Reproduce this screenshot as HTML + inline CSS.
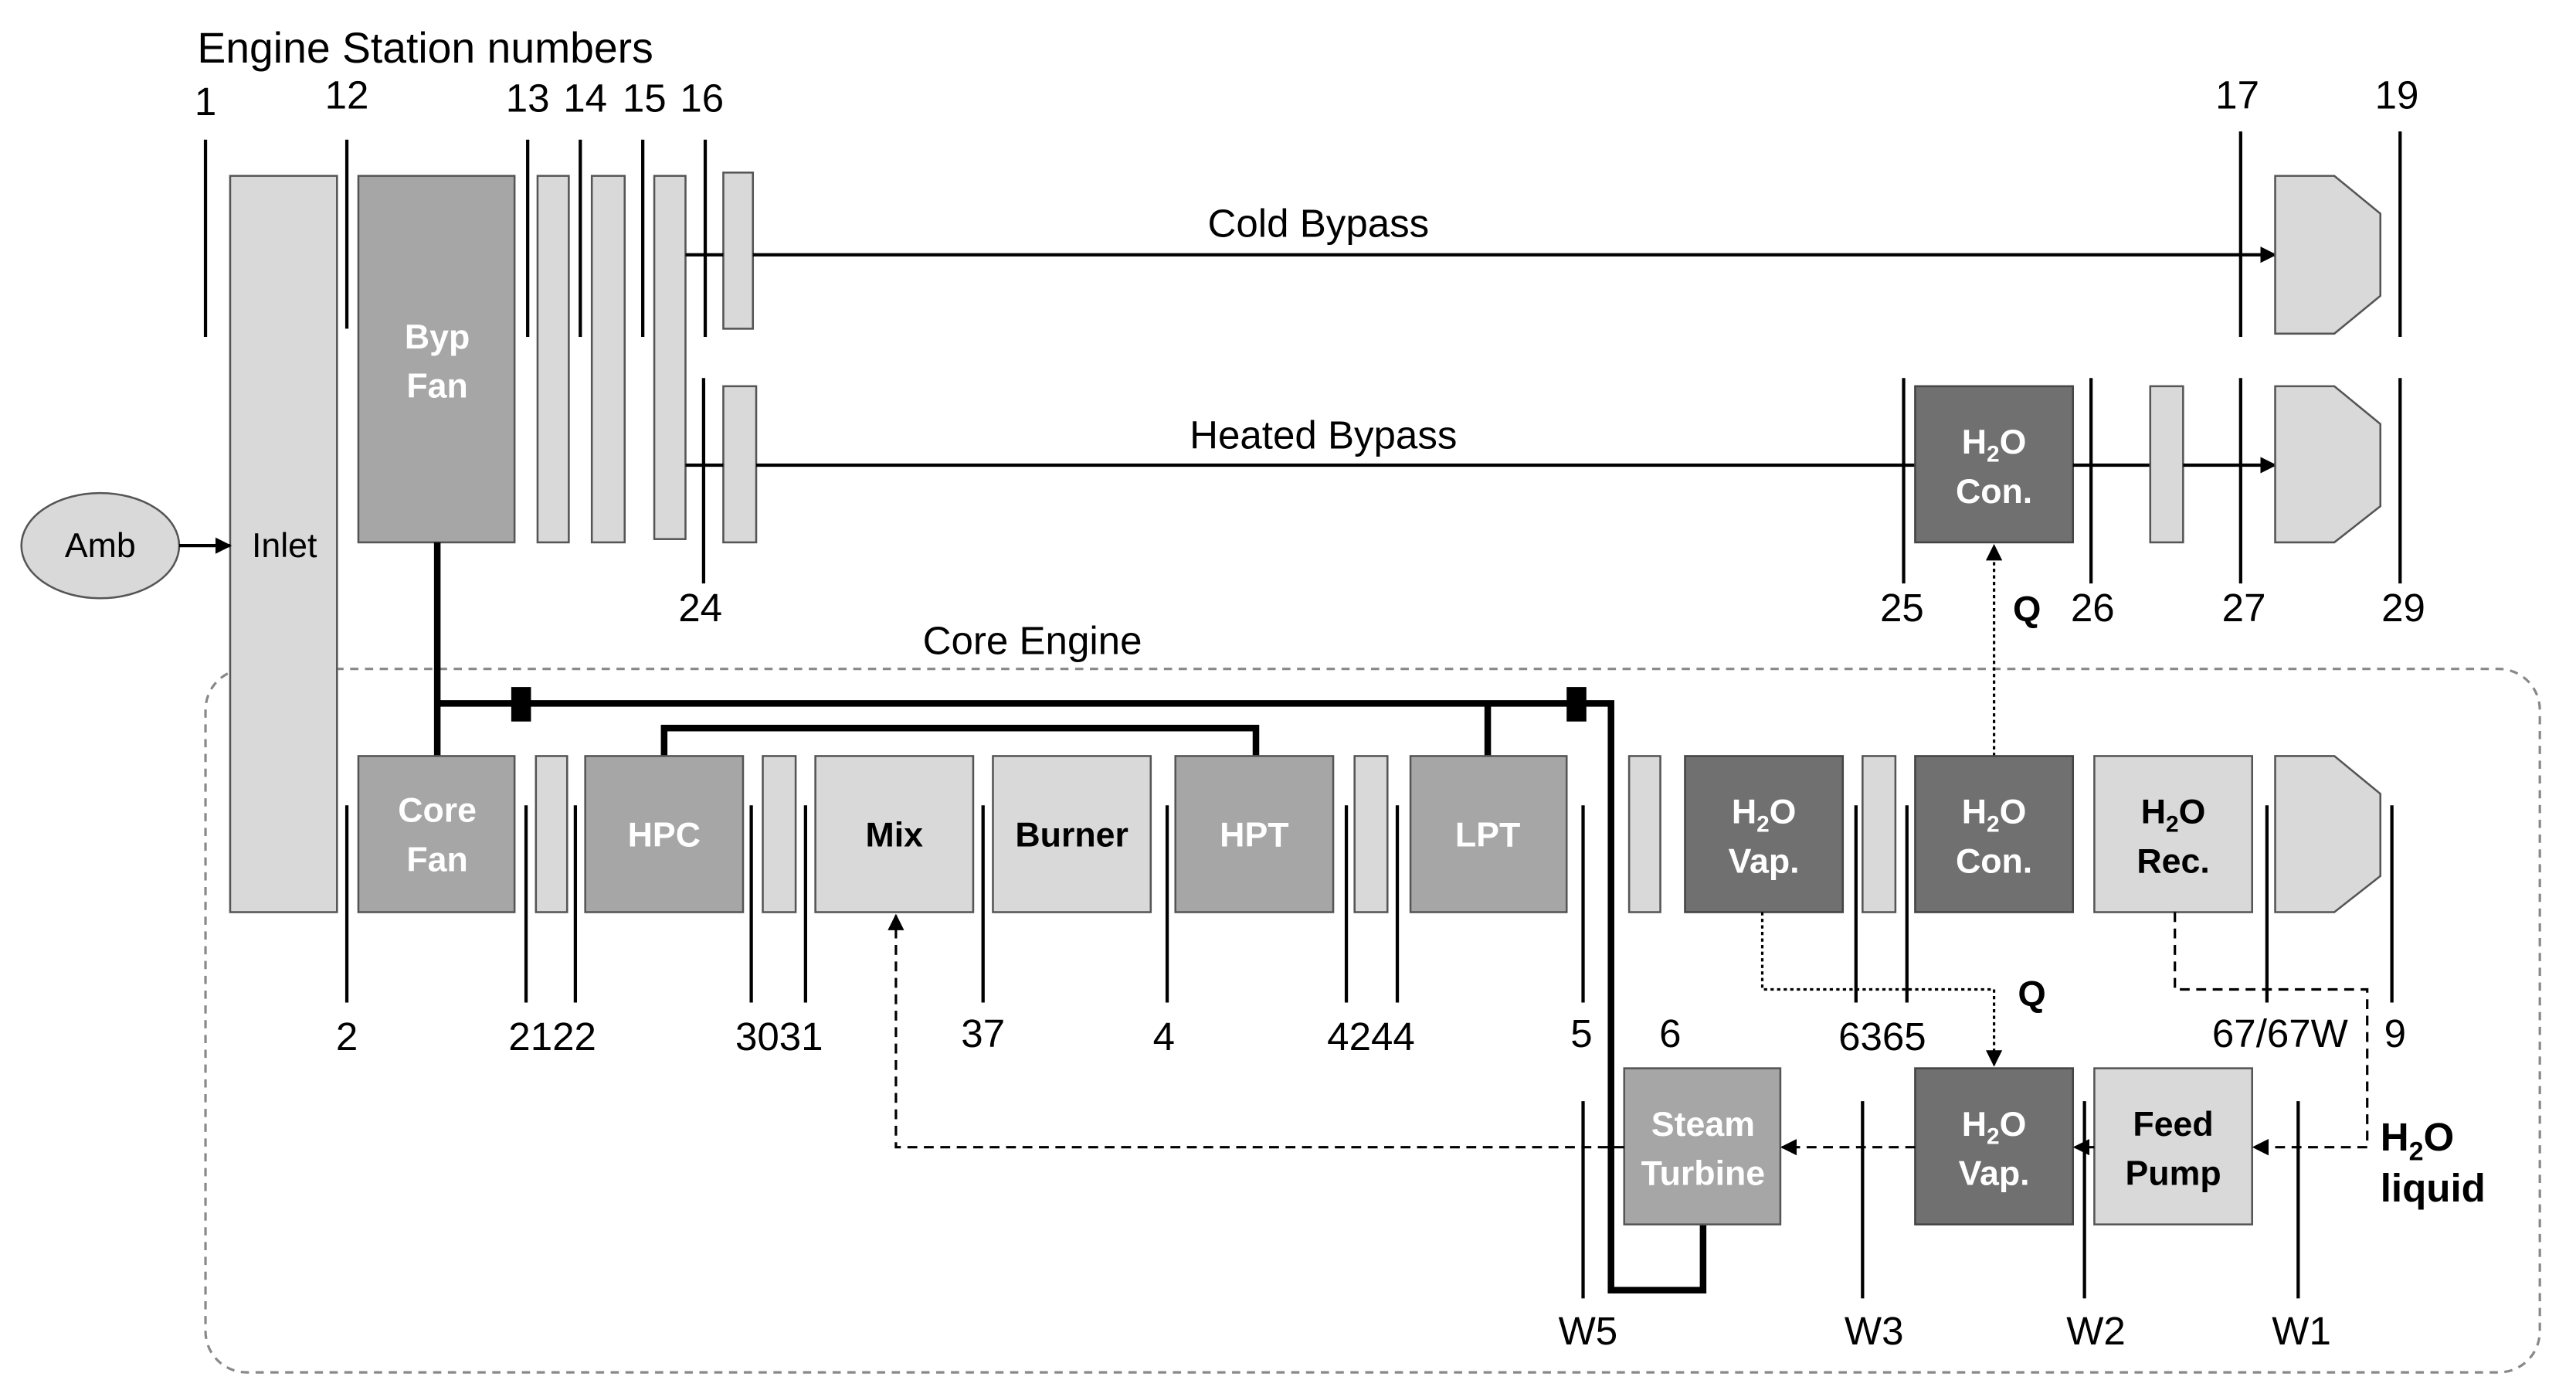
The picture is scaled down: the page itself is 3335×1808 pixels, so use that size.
<!DOCTYPE html>
<html><head><meta charset="utf-8"><style>
html,body{margin:0;padding:0;background:#fff;}
svg{display:block;}
text{font-family:"Liberation Sans",Arial,sans-serif;}
.lbl{font-size:24px;fill:#000;}
.w{fill:#fff;font-weight:bold;font-size:21px;}
.b{fill:#000;font-weight:bold;font-size:21px;}
.lt{fill:#d9d9d9;stroke:#555;stroke-width:1.2;}
.md{fill:#a6a6a6;stroke:#555;stroke-width:1.2;}
.dk{fill:#707070;stroke:#444;stroke-width:1.2;}
.st{stroke:#000;stroke-width:2;fill:none;}
</style></head><body>
<svg width="3335" height="1808" viewBox="0 0 1567 850" preserveAspectRatio="none" xmlns="http://www.w3.org/2000/svg">
<defs>
<marker id="a" markerWidth="10" markerHeight="10" refX="9" refY="5" orient="auto" markerUnits="userSpaceOnUse"><path d="M0,0 L10,5 L0,10 z" fill="#000"/></marker>
</defs>
<rect width="1567" height="850" fill="#fff"/>
<text x="120" y="38" style="font-size:26px">Engine Station numbers</text>
<g class="st">
<line x1="125" y1="85" x2="125" y2="205"/>
<line x1="211" y1="85" x2="211" y2="200"/>
<line x1="321" y1="85" x2="321" y2="205"/>
<line x1="353" y1="85" x2="353" y2="205"/>
<line x1="391" y1="85" x2="391" y2="205"/>
<line x1="429" y1="85" x2="429" y2="205"/>
<line x1="1363" y1="80" x2="1363" y2="205"/>
<line x1="1460" y1="80" x2="1460" y2="205"/>
<line x1="428" y1="230" x2="428" y2="355"/>
<line x1="1158" y1="230" x2="1158" y2="355"/>
<line x1="1272" y1="230" x2="1272" y2="355"/>
<line x1="1363" y1="230" x2="1363" y2="355"/>
<line x1="1460" y1="230" x2="1460" y2="355"/>
</g>
<g class="lbl" text-anchor="middle">
<text x="125" y="70">1</text><text x="211" y="66">12</text><text x="321" y="68">13</text><text x="356" y="68">14</text><text x="392" y="68">15</text><text x="427" y="68">16</text>
<text x="1361" y="66">17</text><text x="1458" y="66">19</text>
<text x="426" y="378">24</text><text x="1157" y="378">25</text><text x="1273" y="378">26</text><text x="1365" y="378">27</text><text x="1462" y="378">29</text>
</g>
<rect x="125" y="407" width="1420" height="428" rx="25" fill="none" stroke="#888" stroke-width="1.5" stroke-dasharray="5,4"/>
<text class="lbl" x="628" y="398" text-anchor="middle">Core Engine</text>
<rect class="lt" x="140" y="107" width="65" height="448"/>
<text x="173" y="339" text-anchor="middle" style="font-size:21px">Inlet</text>
<ellipse cx="61" cy="332" rx="48" ry="32" fill="#d9d9d9" stroke="#555" stroke-width="1.2"/>
<text x="61" y="339" text-anchor="middle" style="font-size:21px">Amb</text>
<line class="st" x1="109" y1="332" x2="140" y2="332" marker-end="url(#a)"/>
<rect class="md" x="218" y="107" width="95" height="223"/>
<text class="w" x="266" y="212" text-anchor="middle">Byp</text><text class="w" x="266" y="242" text-anchor="middle">Fan</text>
<rect class="lt" x="327" y="107" width="19" height="223"/>
<rect class="lt" x="360" y="107" width="20" height="223"/>
<rect class="lt" x="398" y="107" width="19" height="221"/>
<rect class="lt" x="440" y="105" width="18" height="95"/>
<rect class="lt" x="440" y="235" width="20" height="95"/>
<line class="st" x1="417" y1="155" x2="440" y2="155"/>
<line class="st" x1="458" y1="155" x2="1384" y2="155" marker-end="url(#a)"/>
<text class="lbl" x="802" y="144" text-anchor="middle">Cold Bypass</text>
<polygon class="lt" points="1384,107 1420,107 1448,130 1448,180 1420,203 1384,203"/>
<line class="st" x1="417" y1="283" x2="440" y2="283"/>
<line class="st" x1="460" y1="283" x2="1165" y2="283"/>
<text class="lbl" x="805" y="273" text-anchor="middle">Heated Bypass</text>
<rect class="dk" x="1165" y="235" width="96" height="95"/>
<text class="w" x="1213" y="276" text-anchor="middle">H<tspan font-size="14" dy="5">2</tspan><tspan dy="-5">O</tspan></text>
<text class="w" x="1213" y="306" text-anchor="middle">Con.</text>
<line class="st" x1="1261" y1="283" x2="1308" y2="283"/>
<rect class="lt" x="1308" y="235" width="20" height="95"/>
<line class="st" x1="1328" y1="283" x2="1384" y2="283" marker-end="url(#a)"/>
<polygon class="lt" points="1384,235 1420,235 1448,258 1448,308 1420,330 1384,330"/>
<line x1="1213" y1="460" x2="1213" y2="332" stroke="#000" stroke-width="1.5" stroke-dasharray="2,2" marker-end="url(#a)"/>
<text x="1233" y="378" text-anchor="middle" style="font-size:22px;font-weight:bold">Q</text>
<g stroke="#000" stroke-width="4" fill="none">
<line x1="266" y1="330" x2="266" y2="460"/>
<polyline points="266,428 980,428 980,785 1036,785 1036,745"/>
<polyline points="404,460 404,443 764,443 764,460"/>
<line x1="905" y1="428" x2="905" y2="460"/>
</g>
<rect x="311" y="418" width="12" height="21" fill="#000"/>
<rect x="953" y="418" width="12" height="21" fill="#000"/>
<rect class="md" x="218" y="460" width="95" height="95"/>
<text class="w" x="266" y="500" text-anchor="middle">Core</text><text class="w" x="266" y="530" text-anchor="middle">Fan</text>
<rect class="lt" x="326" y="460" width="19" height="95"/>
<rect class="md" x="356" y="460" width="96" height="95"/>
<text class="w" x="404" y="515" text-anchor="middle">HPC</text>
<rect class="lt" x="464" y="460" width="20" height="95"/>
<rect class="lt" x="496" y="460" width="96" height="95"/>
<text class="b" x="544" y="515" text-anchor="middle">Mix</text>
<rect class="lt" x="604" y="460" width="96" height="95"/>
<text class="b" x="652" y="515" text-anchor="middle">Burner</text>
<rect class="md" x="715" y="460" width="96" height="95"/>
<text class="w" x="763" y="515" text-anchor="middle">HPT</text>
<rect class="lt" x="824" y="460" width="20" height="95"/>
<rect class="md" x="858" y="460" width="95" height="95"/>
<text class="w" x="905" y="515" text-anchor="middle">LPT</text>
<rect class="lt" x="991" y="460" width="19" height="95"/>
<rect class="dk" x="1025" y="460" width="96" height="95"/>
<text class="w" x="1073" y="501" text-anchor="middle">H<tspan font-size="14" dy="5">2</tspan><tspan dy="-5">O</tspan></text>
<text class="w" x="1073" y="531" text-anchor="middle">Vap.</text>
<rect class="lt" x="1133" y="460" width="20" height="95"/>
<rect class="dk" x="1165" y="460" width="96" height="95"/>
<text class="w" x="1213" y="501" text-anchor="middle">H<tspan font-size="14" dy="5">2</tspan><tspan dy="-5">O</tspan></text>
<text class="w" x="1213" y="531" text-anchor="middle">Con.</text>
<rect class="lt" x="1274" y="460" width="96" height="95"/>
<text class="b" x="1322" y="501" text-anchor="middle">H<tspan font-size="14" dy="5">2</tspan><tspan dy="-5">O</tspan></text>
<text class="b" x="1322" y="531" text-anchor="middle">Rec.</text>
<polygon class="lt" points="1384,460 1420,460 1448,483 1448,533 1420,555 1384,555"/>
<g class="st">
<line x1="211" y1="490" x2="211" y2="610"/><line x1="320" y1="490" x2="320" y2="610"/><line x1="350" y1="490" x2="350" y2="610"/>
<line x1="457" y1="490" x2="457" y2="610"/><line x1="490" y1="490" x2="490" y2="610"/><line x1="598" y1="490" x2="598" y2="610"/>
<line x1="710" y1="490" x2="710" y2="610"/><line x1="819" y1="490" x2="819" y2="610"/><line x1="850" y1="490" x2="850" y2="610"/>
<line x1="963" y1="490" x2="963" y2="610"/><line x1="1129" y1="490" x2="1129" y2="610"/><line x1="1160" y1="490" x2="1160" y2="610"/>
<line x1="1379" y1="490" x2="1379" y2="610"/><line x1="1455" y1="490" x2="1455" y2="610"/>
<line x1="963" y1="670" x2="963" y2="790"/><line x1="1133" y1="670" x2="1133" y2="790"/><line x1="1268" y1="670" x2="1268" y2="790"/><line x1="1398" y1="670" x2="1398" y2="790"/>
</g>
<g class="lbl" text-anchor="middle">
<text x="211" y="639">2</text><text x="336" y="639">2122</text><text x="474" y="639">3031</text><text x="598" y="637">37</text>
<text x="708" y="639">4</text><text x="834" y="639">4244</text><text x="962" y="637">5</text><text x="1016" y="637">6</text>
<text x="1145" y="639">6365</text><text x="1387" y="637">67/67W</text><text x="1457" y="637">9</text>
<text x="966" y="818">W5</text><text x="1140" y="818">W3</text><text x="1275" y="818">W2</text><text x="1400" y="818">W1</text>
</g>
<rect class="md" x="988" y="650" width="95" height="95"/>
<text class="w" x="1036" y="691" text-anchor="middle">Steam</text><text class="w" x="1036" y="721" text-anchor="middle">Turbine</text>
<rect class="dk" x="1165" y="650" width="96" height="95"/>
<text class="w" x="1213" y="691" text-anchor="middle">H<tspan font-size="14" dy="5">2</tspan><tspan dy="-5">O</tspan></text>
<text class="w" x="1213" y="721" text-anchor="middle">Vap.</text>
<rect class="lt" x="1274" y="650" width="96" height="95"/>
<text class="b" x="1322" y="691" text-anchor="middle">Feed</text><text class="b" x="1322" y="721" text-anchor="middle">Pump</text>
<text x="1448" y="700" style="font-size:24px;font-weight:bold">H<tspan font-size="16" dy="6">2</tspan><tspan dy="-6">O</tspan></text>
<text x="1448" y="731" style="font-size:24px;font-weight:bold">liquid</text>
<g stroke="#000" stroke-width="1.5" fill="none" stroke-dasharray="6,4">
<line x1="1440" y1="698" x2="1371" y2="698" marker-end="url(#a)"/>
<line x1="1274" y1="698" x2="1262" y2="698" marker-end="url(#a)"/>
<line x1="1165" y1="698" x2="1084" y2="698" marker-end="url(#a)"/>
<polyline points="988,698 545,698 545,557" marker-end="url(#a)"/>
<polyline points="1323,555 1323,602 1440,602 1440,698"/>
</g>
<polyline points="1072,555 1072,602 1213,602 1213,648" stroke="#000" stroke-width="1.5" fill="none" stroke-dasharray="2,2" marker-end="url(#a)"/>
<text x="1236" y="612" text-anchor="middle" style="font-size:22px;font-weight:bold">Q</text>
</svg>
</body></html>
